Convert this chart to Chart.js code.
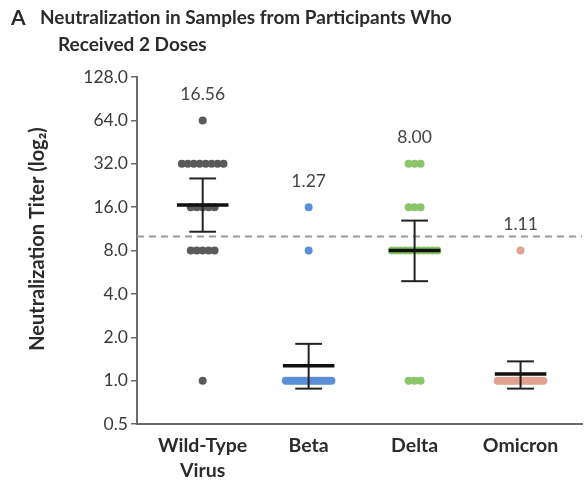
<!DOCTYPE html>
<html>
<head>
<meta charset="utf-8">
<script src="https://cdn.jsdelivr.net/npm/chart.js@4/dist/chart.umd.min.js"></script>
<style>
  html, body { margin: 0; padding: 0; background: #fff; }
  #wrap { position: relative; width: 586px; height: 480px; }
</style>
</head>
<body>
<div id="wrap"><canvas id="c" width="586" height="480"></canvas></div>
<script>
// ---- data ----
const categories = [['Wild-Type', 'Virus'], ['Beta'], ['Delta'], ['Omicron']];
const yTicks = [0.5, 1, 2, 4, 8, 16, 32, 64, 128];

const wildTypeTiters = [64, 32, 32, 32, 32, 32, 32, 32, 32, 16, 16, 16, 16, 16, 8, 8, 8, 8, 8, 1];
const betaTiters = [16, 8, 1, 1, 1, 1, 1, 1, 1, 1, 1, 1, 1, 1, 1, 1, 1, 1, 1, 1];
const deltaTiters = [32, 32, 32, 16, 16, 16, 8, 8, 8, 8, 8, 8, 8, 8, 8, 8, 8, 1, 1, 1];
const omicronTiters = [8, 1, 1, 1, 1, 1, 1, 1, 1, 1, 1, 1, 1, 1, 1, 1, 1, 1, 1, 1];

const geoMeans = [16.56, 1.27, 8.00, 1.11];
const ciLow = [10.8, 0.88, 4.9, 0.88];
const ciHigh = [25.3, 1.8, 12.9, 1.36];
const thresholdValue = 10;

const seriesTiters = [wildTypeTiters, betaTiters, deltaTiters, omicronTiters];
const seriesColors = ['#5a5a5a', '#5b8fd8', '#8cc46a', '#e2a290'];

// ---- layout helpers (styling only) ----
const X_MIN = 0.38, X_MAX = 4.58;
const PX_PER_UNIT = (586 - 137) / (X_MAX - X_MIN);
const FONT = 'Lato, "Open Sans", "DejaVu Sans", sans-serif';

function swarm(titers, catIndex) {
  const groups = new Map();
  titers.forEach(v => { if (!groups.has(v)) groups.set(v, 0); groups.set(v, groups.get(v) + 1); });
  const pts = [];
  groups.forEach((n, v) => {
    const spacingPx = n > 1 ? Math.min(6, 46 / (n - 1)) : 0;
    for (let j = 0; j < n; j++) {
      const offPx = (j - (n - 1) / 2) * spacingPx;
      pts.push({ x: catIndex + 1 + offPx / PX_PER_UNIT, y: v });
    }
  });
  return pts;
}

const datasets = [];
datasets.push({
  type: 'scatter', showLine: true, order: 5,
  data: [{ x: X_MIN, y: thresholdValue }, { x: X_MAX, y: thresholdValue }],
  borderColor: '#9a9a9a', borderWidth: 2, borderDash: [7, 5], pointRadius: 0
});
seriesTiters.forEach((t, i) => {
  datasets.push({
    type: 'scatter', order: 4,
    data: swarm(t, i),
    backgroundColor: seriesColors[i], borderColor: seriesColors[i],
    borderWidth: 0, pointRadius: 4, pointHoverRadius: 4
  });
});
const meanHalf = 26 / PX_PER_UNIT, capHalf = 13.5 / PX_PER_UNIT;
geoMeans.forEach((m, i) => {
  const cx = i + 1;
  const errStyle = { type: 'scatter', showLine: true, order: 2, borderColor: '#222', borderWidth: 2, pointRadius: 0 };
  datasets.push(Object.assign({}, errStyle, { data: [{ x: cx, y: ciLow[i] }, { x: cx, y: ciHigh[i] }] }));
  datasets.push(Object.assign({}, errStyle, { data: [{ x: cx - capHalf, y: ciHigh[i] }, { x: cx + capHalf, y: ciHigh[i] }] }));
  datasets.push(Object.assign({}, errStyle, { data: [{ x: cx - capHalf, y: ciLow[i] }, { x: cx + capHalf, y: ciLow[i] }] }));
  datasets.push({
    type: 'scatter', showLine: true, order: 1,
    data: [{ x: cx - meanHalf, y: m }, { x: cx + meanHalf, y: m }],
    borderColor: '#111', borderWidth: 3.5, pointRadius: 0
  });
});

const textPlugin = {
  id: 'texts',
  afterDatasetsDraw(chart) {
    const { ctx, scales: { x, y } } = chart;
    ctx.save();
    ctx.fillStyle = '#444';
    ctx.font = '17.5px ' + FONT;
    ctx.textAlign = 'center';
    ctx.textBaseline = 'middle';
    geoMeans.forEach((m, i) => {
      const top = Math.max.apply(null, seriesTiters[i]);
      ctx.fillText(m.toFixed(2), x.getPixelForValue(i + 1), y.getPixelForValue(top) - 26);
    });
    ctx.restore();
  },
  afterDraw(chart) {
    const ctx = chart.ctx;
    ctx.save();
    ctx.fillStyle = '#2b2b2b';
    ctx.textBaseline = 'middle';
    ctx.textAlign = 'left';
    ctx.font = 'bold 21px ' + FONT;
    ctx.fillText('A', 11, 18);
    ctx.font = 'bold 19px ' + FONT;
    ctx.fillText('Neutralization in Samples from Participants Who', 40, 18);
    ctx.fillText('Received 2 Doses', 58, 45);
    // y-axis title
    ctx.translate(38, 239);
    ctx.rotate(-Math.PI / 2);
    ctx.textAlign = 'center';
    ctx.font = 'bold 20px ' + FONT;
    ctx.fillText('Neutralization Titer (log\u2082)', 0, 0);
    ctx.restore();
  }
};

new Chart(document.getElementById('c'), {
  type: 'scatter',
  data: { datasets },
  plugins: [textPlugin],
  options: {
    responsive: false,
    animation: false,
    events: [],
    layout: { padding: { top: 77, left: 0, right: 0, bottom: 0 } },
    plugins: { legend: { display: false }, tooltip: { enabled: false } },
    scales: {
      x: {
        type: 'linear', min: X_MIN, max: X_MAX,
        afterBuildTicks: s => { s.ticks = categories.map((c, i) => ({ value: i + 1 })); },
        afterFit: s => { s.height = 56; },
        grid: { display: false, drawTicks: false },
        border: { display: true, color: '#6a6a6a', width: 2 },
        ticks: {
          padding: 9, color: '#2b2b2b', maxRotation: 0, autoSkip: false,
          font: { family: FONT, size: 19.5, weight: 'bold', lineHeight: 1.3 },
          callback: (v) => categories[Math.round(v) - 1]
        }
      },
      y: {
        type: 'logarithmic', min: 0.5, max: 128,
        afterBuildTicks: s => { s.ticks = yTicks.map(v => ({ value: v })); },
        afterFit: s => { s.width = 137; },
        grid: { drawOnChartArea: false, drawTicks: true, tickLength: 6, color: '#6a6a6a', lineWidth: 1.5 },
        border: { display: true, color: '#6a6a6a', width: 2 },
        ticks: {
          padding: 3, color: '#3a3a3a', autoSkip: false,
          font: { family: FONT, size: 17.5 },
          callback: v => Number(v).toFixed(1)
        },
        title: { display: false }
      }
    }
  }
});
</script>
</body>
</html>
